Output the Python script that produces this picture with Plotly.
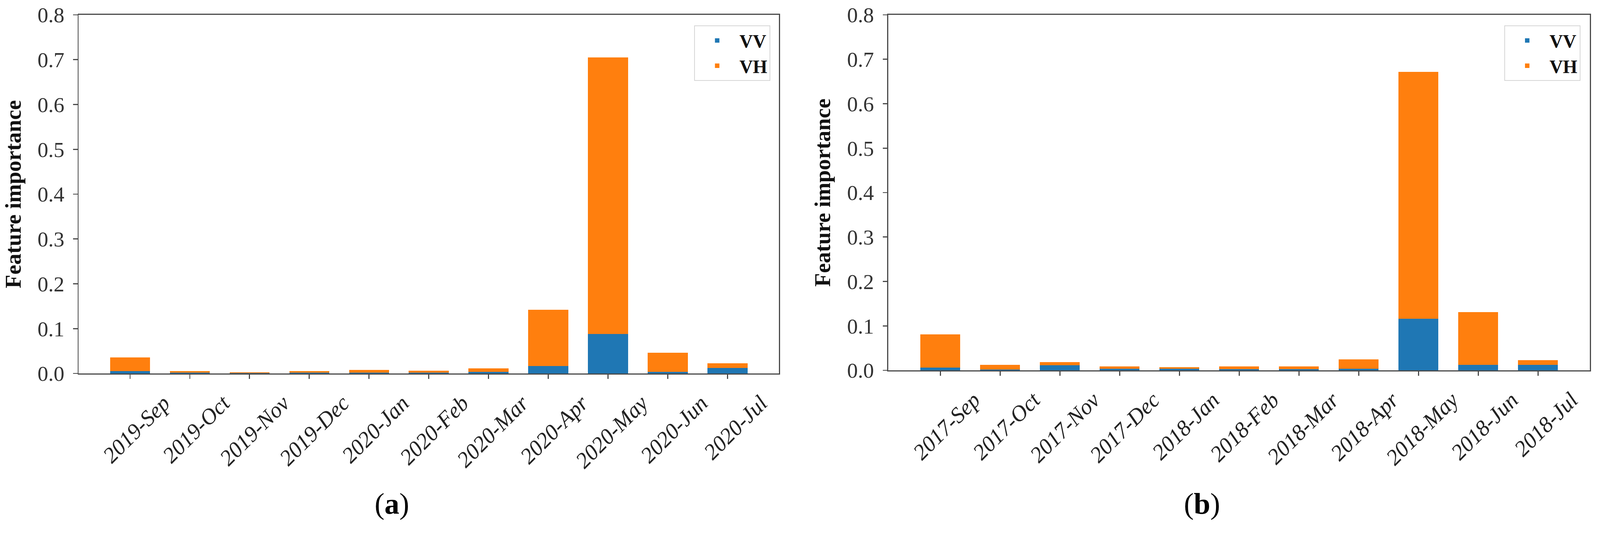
import plotly.graph_objects as go

# ---------------- data ----------------
months_a = ["2019-Sep", "2019-Oct", "2019-Nov", "2019-Dec", "2020-Jan", "2020-Feb",
            "2020-Mar", "2020-Apr", "2020-May", "2020-Jun", "2020-Jul"]
vv_a = [0.005, 0.002, 0.001, 0.002, 0.002, 0.002, 0.0036, 0.0166, 0.088, 0.0036, 0.012]
vh_a = [0.031, 0.003, 0.002, 0.003, 0.006, 0.0044, 0.0074, 0.1254, 0.617, 0.0424, 0.011]

months_b = ["2017-Sep", "2017-Oct", "2017-Nov", "2017-Dec", "2018-Jan", "2018-Feb",
            "2018-Mar", "2018-Apr", "2018-May", "2018-Jun", "2018-Jul"]
vv_b = [0.0062, 0.002, 0.0117, 0.0037, 0.0035, 0.003, 0.003, 0.0037, 0.116, 0.0121, 0.012]
vh_b = [0.0748, 0.010, 0.007, 0.005, 0.0038, 0.0054, 0.0054, 0.0209, 0.556, 0.1193, 0.0104]

y_ticks = [0.0, 0.1, 0.2, 0.3, 0.4, 0.5, 0.6, 0.7, 0.8]
panel_labels = ["(<b>a</b>)", "(<b>b</b>)"]
y_title = "Feature importance"

# ---------------- style ----------------
BLUE = "#1f77b4"
ORANGE = "#ff7f0e"
SERIF = "Liberation Serif"
AX = "#4a4a4a"
BAR_W = 0.67
FIG_W, FIG_H = 4310, 1408

fig = go.Figure()
fig.add_trace(go.Bar(x=months_a, y=vv_a, name="<b>VV</b>", marker=dict(color=BLUE, line=dict(width=0)),
                     width=BAR_W, xaxis="x", yaxis="y", legend="legend", legendgroup="a_vv"))
fig.add_trace(go.Bar(x=months_a, y=vh_a, name="<b>VH</b>", marker=dict(color=ORANGE, line=dict(width=0)),
                     width=BAR_W, xaxis="x", yaxis="y", legend="legend", legendgroup="a_vh"))
fig.add_trace(go.Bar(x=months_b, y=vv_b, name="<b>VV</b>", marker=dict(color=BLUE, line=dict(width=0)),
                     width=BAR_W, xaxis="x2", yaxis="y2", legend="legend2", legendgroup="b_vv"))
fig.add_trace(go.Bar(x=months_b, y=vh_b, name="<b>VH</b>", marker=dict(color=ORANGE, line=dict(width=0)),
                     width=BAR_W, xaxis="x2", yaxis="y2", legend="legend2", legendgroup="b_vh"))

xcommon = dict(
    type="category", showline=True, mirror=True, linecolor=AX, linewidth=3,
    ticks="outside", ticklen=12, tickwidth=3, tickcolor=AX,
    tickangle=-45, ticklabelshift=90, ticklabelstandoff=6,
    tickfont=dict(family=SERIF, size=60, color="#222222", style="italic"),
    showgrid=False, zeroline=False, automargin=False,
)
ycommon = dict(
    range=[0, 0.8], tickvals=y_ticks, tickformat=".1f",
    showline=True, mirror=True, linecolor=AX, linewidth=3,
    ticks="outside", ticklen=12, tickwidth=3, tickcolor=AX,
    ticklabelstandoff=12,
    tickfont=dict(family=SERIF, size=58, color="#333333"),
    showgrid=False, zeroline=False, automargin=False,
    title=dict(text="<b>" + y_title + "</b>", font=dict(family=SERIF, size=60, color="#111111"),
               standoff=26),
)

legend_style = dict(xanchor="right", yanchor="top", traceorder="normal", tracegroupgap=14,
                    bgcolor="white", bordercolor="#d6d6d6", borderwidth=2,
                    font=dict(family=SERIF, size=50, color="#111111"), itemwidth=110)

fig.update_layout(
    width=FIG_W, height=FIG_H, autosize=False,
    margin=dict(l=212, r=27, t=40, b=402),
    paper_bgcolor="white", plot_bgcolor="white",
    barmode="stack",
    xaxis=dict(domain=[0.0, 0.4633], range=[-0.86, 10.86], anchor="y", **xcommon),
    yaxis=dict(domain=[0.0, 1.0], anchor="x", **ycommon),
    xaxis2=dict(domain=[0.5357, 1.0], range=[-0.87, 10.87], anchor="y2", **xcommon),
    yaxis2=dict(domain=[0.0088, 1.0], anchor="x2", **ycommon),
    legend=dict(x=0.4576, y=0.971, **legend_style),
    legend2=dict(x=0.9936, y=0.971, **legend_style),
    showlegend=True,
    annotations=[
        dict(text=panel_labels[0], x=0.2071, y=-0.3634, xref="paper", yref="paper",
             xanchor="center", yanchor="middle", showarrow=False,
             font=dict(family=SERIF, size=80, color="#000000")),
        dict(text=panel_labels[1], x=0.7433, y=-0.3634, xref="paper", yref="paper",
             xanchor="center", yanchor="middle", showarrow=False,
             font=dict(family=SERIF, size=80, color="#000000")),
    ],
)

# Fit the fixed-size figure to the browser viewport exactly (no body margin, no scrollbars)
post = (
    "var gd=document.getElementById('{plot_id}');"
    "document.documentElement.style.margin='0';document.body.style.margin='0';"
    "document.documentElement.style.overflow='hidden';document.body.style.overflow='hidden';"
    "var s=window.innerWidth/" + str(FIG_W) + ";"
    "gd.style.transformOrigin='0 0';gd.style.transform='scale('+s+')';"
)

fig.write_html("out.html", post_script=post, config={"displayModeBar": False})
